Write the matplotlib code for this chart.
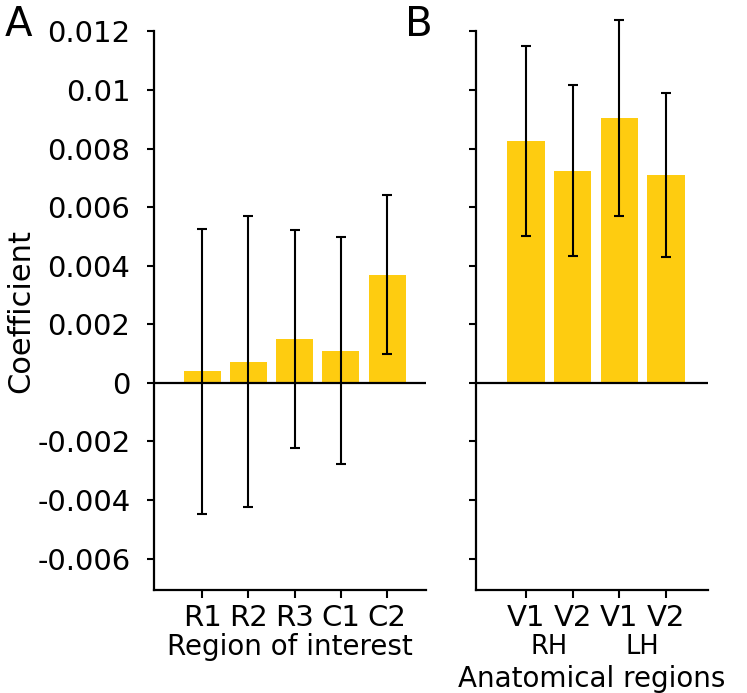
import matplotlib
matplotlib.use("Agg")
import matplotlib.pyplot as plt
import matplotlib.transforms as mtransforms
import numpy as np

# Panel A: regions of interest
roi_labels = ["R1", "R2", "R3", "C1", "C2"]
roi_coef = [0.00040, 0.00073, 0.00150, 0.00110, 0.00370]
roi_err = [0.00487, 0.00496, 0.00371, 0.00387, 0.00272]

# Panel B: anatomical regions (right / left hemisphere)
anat_labels = ["V1", "V2", "V1", "V2"]
anat_hemi = ["RH", "RH", "LH", "LH"]
anat_coef = [0.00826, 0.00725, 0.00904, 0.00710]
anat_err = [0.00325, 0.00291, 0.00335, 0.00280]

y_ticks = [-0.006, -0.004, -0.002, 0, 0.002, 0.004, 0.006, 0.008, 0.01, 0.012]
y_ticklabels = ["-0.006", "-0.004", "-0.002", "0", "0.002", "0.004",
                "0.006", "0.008", "0.01", "0.012"]

BAR_COLOR = "#FECC10"
FONT = "DejaVu Sans"
plt.rcParams["font.family"] = [FONT]

W, H = 747, 693
fig = plt.figure(figsize=(W / 100, H / 100), dpi=100)


def px_axes(left, right, top, bottom):
    return fig.add_axes([left / W, 1 - bottom / H, (right - left) / W, (bottom - top) / H])


axA = px_axes(154, 426, 31.4, 590)
axB = px_axes(476, 708, 31.4, 590)

ylim = (-0.00707, 0.012)
AX_H = 590 - 31.4


def style_axis(ax, show_labels):
    for s in ("top", "right"):
        ax.spines[s].set_visible(False)
    for s in ("left", "bottom"):
        ax.spines[s].set_linewidth(1.6)
    ax.set_ylim(*ylim)
    ax.set_yticks(y_ticks)
    if show_labels:
        ax.set_yticklabels(y_ticklabels)
    else:
        ax.set_yticklabels([])
    ax.tick_params(axis="y", direction="out", length=5, width=1.5, pad=12, labelsize=21)
    ax.tick_params(axis="x", direction="out", length=6, width=1.5, pad=4, labelsize=21)
    ax.axhline(0, color="black", lw=1.6, zorder=3)


def draw_bars(ax, values, errs):
    x = np.arange(len(values))
    ax.bar(x, values, width=0.8, color=BAR_COLOR, zorder=2)
    eb = ax.errorbar(x, values, yerr=errs, fmt="none", ecolor="black",
                     elinewidth=1.5, capsize=3.3, capthick=1.5, zorder=4)
    for artist in eb.lines[1] + eb.lines[2]:
        artist.set_clip_on(False)
    return x


# Panel A
xa = draw_bars(axA, roi_coef, roi_err)
style_axis(axA, True)
axA.set_xlim(-1.04, 4.84)
axA.set_xticks(xa)
axA.set_xticklabels(roi_labels)
axA.set_xlabel("Region of interest", fontsize=20, va="baseline")
axA.xaxis.set_label_coords(0.5, (590 - 655) / AX_H)
axA.set_ylabel("Coefficient", fontsize=22, va="center")
axA.yaxis.set_label_coords((21 - 154) / (426 - 154), 0.5)

# Panel B
xb = draw_bars(axB, anat_coef, anat_err)
style_axis(axB, False)
axB.set_xlim(-1.07, 3.9)
axB.set_xticks(xb)
axB.set_xticklabels(anat_labels)
axB.set_xlabel("Anatomical regions", fontsize=20, va="baseline")
axB.xaxis.set_label_coords(0.5, (590 - 687) / AX_H)

# hemisphere labels centred under each pair of bars
blend = mtransforms.blended_transform_factory(axB.transData, axB.transAxes)
hemi_names = list(dict.fromkeys(anat_hemi))
for h in hemi_names:
    idx = [i for i, v in enumerate(anat_hemi) if v == h]
    axB.text(np.mean(xb[idx]), (590 - 654) / AX_H, h, transform=blend,
             ha="center", va="baseline", fontsize=18.5)

# panel letters
fig.text(5 / W, 1 - 5 / H, "A", fontsize=29, ha="left", va="top")
fig.text(405 / W, 1 - 5 / H, "B", fontsize=29, ha="left", va="top")

fig.savefig("out.png", dpi=100)
